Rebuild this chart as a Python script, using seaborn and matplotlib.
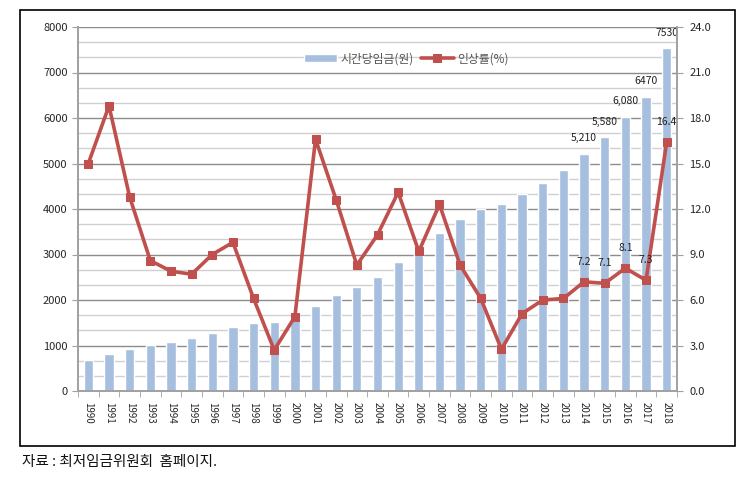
import numpy as np
import pandas as pd
import matplotlib
matplotlib.use("Agg")
import matplotlib.pyplot as plt
from matplotlib.patches import Rectangle
from matplotlib.ticker import MultipleLocator, FormatStrFormatter
import seaborn as sns

years = [str(y) for y in range(1990, 2019)]
wage = [690, 820, 925, 1005, 1085, 1170, 1275, 1400, 1485, 1525,
        1600, 1865, 2100, 2275, 2510, 2840, 3100, 3480, 3770, 4000,
        4110, 4320, 4580, 4860, 5210, 5580, 6030, 6470, 7530]
rate = [15.0, 18.8, 12.8, 8.6, 7.9, 7.7, 9.0, 9.8, 6.1, 2.7,
        4.9, 16.6, 12.6, 8.3, 10.3, 13.1, 9.2, 12.3, 8.3, 6.1,
        2.75, 5.1, 6.0, 6.1, 7.2, 7.1, 8.1, 7.3, 16.4]
wage_labels = {"2014": "5,210", "2015": "5,580", "2016": "6,080", "2017": "6470", "2018": "7530"}
rate_labels = {"2014": "7.2", "2015": "7.1", "2016": "8.1", "2017": "7.3", "2018": "16.4"}

sns.set_style("white")
plt.rcParams['font.family'] = ['Noto Sans CJK KR', 'DejaVu Sans']

bar_c = "#A7BFDE"
line_c = "#C0504D"
grid_c = "#A0A0A0"

df = pd.DataFrame({"year": years, "wage": wage, "rate": rate})

fig = plt.figure(figsize=(7.53, 4.88), dpi=100)
ax = fig.add_axes([78/753, 1 - 391/488, (677-78)/753, (391-27)/488])
ax2 = ax.twinx()

sns.barplot(data=df, x="year", y="wage", color=bar_c, width=0.45,
            saturation=1, ax=ax, label="시간당임금(원)")
ax.set_ylim(0, 8000)
ax.set_xlim(-0.5, len(years) - 0.5)
ax.yaxis.set_major_locator(MultipleLocator(1000))
ax.yaxis.set_minor_locator(MultipleLocator(1000/3))
ax.grid(axis="y", which="major", color="#8C8C8C", lw=1.0)
ax.grid(axis="y", which="minor", color="#D0D0D0", lw=1.0)
ax.set_axisbelow(True)
ax.set_xlabel("")
ax.set_ylabel("")

sns.lineplot(x=np.arange(len(years)), y=rate, ax=ax2, color=line_c, lw=2.6,
             marker="s", markersize=6, markeredgecolor=line_c, label="인상률(%)")
ax2.set_ylim(0, 24)
ax2.yaxis.set_major_locator(MultipleLocator(3))
ax2.yaxis.set_major_formatter(FormatStrFormatter("%.1f"))
ax2.set_xlim(-0.5, len(years) - 0.5)
ax2.set_ylabel("")

# tick marks between categories
ax.set_xticks(np.arange(len(years)))
ax.set_xticklabels(years, rotation=-90, fontsize=7)
ax.set_xticks(np.arange(-0.5, len(years)), minor=True)
ax.tick_params(axis="x", which="major", length=0, pad=8)
ax.tick_params(axis="x", which="minor", length=4, color=grid_c, bottom=True)
ax.tick_params(axis="y", which="major", length=4, color=grid_c, left=True, labelsize=8)
ax.tick_params(axis="y", which="minor", length=0)
ax2.tick_params(axis="y", length=4, color=grid_c, right=True, labelsize=8, pad=5)

for a in (ax, ax2):
    a.spines["top"].set_visible(False)
    for s in ("left", "right", "bottom"):
        a.spines[s].set_color(grid_c)
        a.spines[s].set_linewidth(1.2)

idx = {y: i for i, y in enumerate(years)}
for y, t in wage_labels.items():
    i = idx[y]
    ax.text(i, wage[i] + 230, t, ha="center", va="bottom", fontsize=7.5, color="#222222")
for y, t in rate_labels.items():
    i = idx[y]
    ax2.text(i, rate[i] + 1.0, t, ha="center", va="bottom", fontsize=7.5, color="#222222")

if ax.legend_:
    ax.legend_.remove()
h1, l1 = ax.get_legend_handles_labels()
h2, l2 = ax2.get_legend_handles_labels()
ax2.legend(h1 + h2, l1 + l2, loc="upper center", bbox_to_anchor=(0.548, 0.96),
           ncol=2, frameon=False, fontsize=8.5, handlelength=2.8, columnspacing=0.6,
           handletextpad=0.3, labelcolor="#555555")

fig.patches.append(Rectangle((20/753, 1 - 446/488), (735-20)/753, (446-10)/488,
                             transform=fig.transFigure, fill=False, ec="black", lw=1.2))
fig.text(22/753, 1 - 462/488, "자료 : 최저임금위원회  홈페이지.", fontsize=10.5,
         va="center", ha="left", color="#111111")

fig.savefig("out.png", dpi=100)
